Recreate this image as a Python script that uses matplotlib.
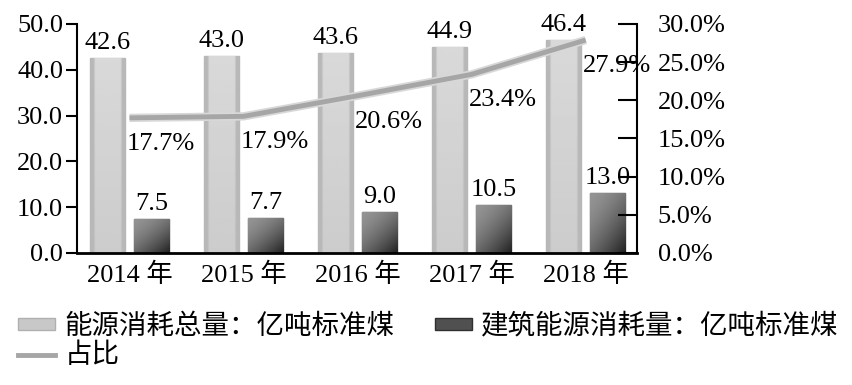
import numpy as np
import matplotlib
matplotlib.use("Agg")
import matplotlib.pyplot as plt
from matplotlib.patches import Patch
from matplotlib.lines import Line2D

plt.rcParams['font.family'] = ['Liberation Serif', 'Noto Sans CJK SC']

years = ['2014 年', '2015 年', '2016 年', '2017 年', '2018 年']
total = [42.6, 43.0, 43.6, 44.9, 46.4]
building = [7.5, 7.7, 9.0, 10.5, 13.0]
ratio = [17.7, 17.9, 20.6, 23.4, 27.9]

total_label = '能源消耗总量：亿吨标准煤'
building_label = '建筑能源消耗量：亿吨标准煤'
ratio_label = '占比'

fs = 19

fig = plt.figure(figsize=(8.53, 3.85), dpi=100)
ax = fig.add_axes([0.0903, 0.3429, 0.6565, 0.5948])
ax2 = ax.twinx()

x = np.arange(len(years))
w = 0.31
off = 0.193

# light bars with a soft vertical gradient
light_grad = np.linspace(0.80, 0.85, 64).reshape(-1, 1) * np.ones((64, 16))
light_grad[:, :2] = 0.72
light_grad[:, -2:] = 0.72
bars1 = ax.bar(x - off, total, w, color='#d0d0d0', edgecolor='#b4b4b4', linewidth=1, zorder=2)
for b in bars1:
    x0, y0 = b.get_x(), b.get_y()
    im = ax.imshow(light_grad, cmap='gray', vmin=0, vmax=1, aspect='auto',
                   extent=[x0, x0 + b.get_width(), y0, y0 + b.get_height()],
                   origin='lower', zorder=2.1, interpolation='bilinear')
    im.set_clip_path(b)

# dark bars with diagonal gradient (darker at bottom right)
gx, gy = np.meshgrid(np.linspace(0, 1, 32), np.linspace(0, 1, 64))
dark_grad = 0.58 - 0.45 * np.clip((gx * 0.9 + (1 - gy) * 1.1) / 2.0, 0, 1) ** 1.6
bars2 = ax.bar(x + off, building, w, color='#707070', edgecolor='#505050', linewidth=1, zorder=2)
for b in bars2:
    x0, y0 = b.get_x(), b.get_y()
    im = ax.imshow(dark_grad, cmap='gray', vmin=0, vmax=1, aspect='auto',
                   extent=[x0, x0 + b.get_width(), y0, y0 + b.get_height()],
                   origin='lower', zorder=2.1, interpolation='bilinear')
    im.set_clip_path(b)

for xi, v in zip(x, total):
    ax.annotate(f'{v:.1f}', (xi - off, v), xytext=(0, 4), textcoords='offset pixels',
                ha='center', va='bottom', fontsize=fs, zorder=5)
for xi, v in zip(x, building):
    ax.annotate(f'{v:.1f}', (xi + off, v), xytext=(0, 4), textcoords='offset pixels',
                ha='center', va='bottom', fontsize=fs, zorder=5)

ax.set_xlim(-0.46, 4.45)
ax.set_ylim(0, 50)
ax.set_yticks([0, 10, 20, 30, 40, 50])
ax.set_yticklabels([f'{t:.1f}' for t in [0, 10, 20, 30, 40, 50]], fontsize=fs)
ax.set_xticks(x)
ax.set_xticklabels(years, fontsize=fs)
ax.tick_params(axis='x', length=0, pad=7)
ax.tick_params(axis='y', direction='out', length=8, width=1.5, pad=2)
ax.spines['top'].set_visible(False)
ax.spines['right'].set_visible(False)
ax.spines['left'].set_linewidth(1.5)
ax.spines['bottom'].set_linewidth(2)
ax.set_zorder(ax2.get_zorder() - 1)
ax.patch.set_visible(False)

# ratio line on the right axis
ax2.plot(x, ratio, color='#d8d8d8', linewidth=6, solid_capstyle='butt', zorder=3)
ax2.plot(x, ratio, color='#a6a6a6', linewidth=3.5, solid_capstyle='butt', zorder=3)
for xi, v in zip(x, ratio):
    ax2.annotate(f'{v:.1f}%', (xi, v), xytext=(-3, -26), textcoords='offset pixels',
                 ha='left', va='center', fontsize=fs, zorder=5)
ax2.set_ylim(0, 30)
ax2.set_yticks([0, 5, 10, 15, 20, 25, 30])
ax2.set_yticklabels([f'{t:.1f}%' for t in [0, 5, 10, 15, 20, 25, 30]], fontsize=fs)
ax2.tick_params(axis='y', direction='in', length=14, width=1.5, pad=15)
for s in ['top', 'left', 'bottom']:
    ax2.spines[s].set_visible(False)
ax2.spines['right'].set_linewidth(1.5)

handles = [Patch(facecolor='#c8c8c8', edgecolor='#b0b0b0'),
           Line2D([0], [0], color='#a6a6a6', linewidth=3.5),
           Patch(facecolor='#505050', edgecolor='#303030')]
fig.legend(handles, [total_label, ratio_label, building_label], ncol=2,
           loc='upper left', bbox_to_anchor=(0.021, 0.188), frameon=False,
           prop={'family': ['Noto Sans CJK SC'], 'size': 19.8},
           handlelength=1.35, handleheight=0.3, handletextpad=0.35,
           columnspacing=1.45, labelspacing=0.1, borderpad=0, borderaxespad=0)

fig.savefig('out.png', dpi=100)
